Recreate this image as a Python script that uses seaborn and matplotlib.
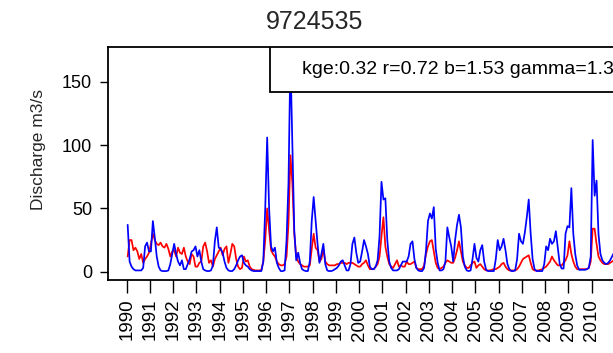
import numpy as np
import pandas as pd
import matplotlib
matplotlib.use("Agg")
import matplotlib.pyplot as plt
import seaborn as sns
from matplotlib.patches import Rectangle

# ---------------- data ----------------
title = "9724535"
ylabel = "Discharge m3/s"
stats_text = "kge:0.32 r=0.72 b=1.53 gamma=1.3"
start_year = 1990
tick_years = list(range(1990, 2011))
y_ticks = [0, 50, 100, 150]

# monthly discharge, blue series (simulated), Jan 1990 .. Dec 2010
simulated = [
    37, 8, 4, 2, 1, 1, 1, 1, 3, 20, 23, 16,            # 1990
    16, 40, 27, 12, 4, 1, 0.5, 0.5, 0.5, 1, 6, 14,     # 1991
    22, 14, 8, 5, 9, 2, 2, 6, 10, 16, 17, 20,          # 1992
    12, 17, 8, 2, 1, 0.5, 0.5, 1, 5, 24, 35, 19,       # 1993
    18, 15, 8, 3, 1, 0.5, 0.5, 2, 5, 9, 12, 13,        # 1994
    7, 5, 4, 2, 1, 0.5, 0.5, 0.5, 0.5, 0.5, 8, 50,     # 1995
    106, 50, 20, 16, 19, 7, 3, 0.5, 0.5, 1, 25, 70,   # 1996
    170, 100, 32, 9, 15, 7, 2, 1, 0.5, 0.5, 8, 40,    # 1997
    59, 41, 22, 7, 14, 22, 6, 1, 0.5, 0.5, 1, 2,       # 1998
    3, 5, 8, 9, 5, 1, 1, 6, 22, 27, 15, 7,             # 1999
    8, 16, 25, 20, 14, 4, 2, 2, 4, 9, 28, 71,          # 2000
    57, 58, 25, 8, 3, 1, 1, 1, 2, 5, 8, 8,             # 2001
    8, 12, 22, 24, 10, 3, 1, 0.5, 0.5, 3, 17, 40,      # 2002
    46, 42, 51, 18, 7, 1, 1, 2, 8, 35, 27, 20,         # 2003
    8, 25, 37, 45, 35, 12, 4, 1, 0.5, 1, 10, 22,       # 2004
    11, 8, 17, 21, 8, 1.5, 0.5, 0.5, 0.5, 0.5, 10, 25, # 2005
    17, 20, 26, 17, 6, 2, 0.5, 0.5, 1, 10, 30, 24,     # 2006
    22, 31, 43, 57, 30, 10, 2, 0.5, 0.5, 0.5, 0.5, 6,  # 2007
    20, 17, 26, 22, 24, 32, 19, 6, 2.5, 2.5, 30, 36,   # 2008
    35, 66, 30, 14, 5, 1.5, 1.5, 1.5, 1.5, 2, 3, 12,   # 2009
    104, 60, 72, 30, 14, 9, 7, 6, 7, 9, 12, 15,        # 2010
]

# monthly discharge, red series (observed), Jan 1990 .. Dec 2010
observed = [
    12, 25, 25, 17, 19, 16, 10, 14, 7, 10, 12, 15,     # 1990
    22, 30, 25, 22, 21, 23, 20, 19, 22, 18, 12, 16,    # 1991
    17, 12, 19, 15, 14, 19, 12, 8, 6, 14, 12, 4,       # 1992
    4, 7, 8, 20, 23, 16, 7, 9, 4, 10, 13, 16,          # 1993
    19, 13, 18, 20, 7, 14, 22, 20, 10, 4, 2, 3,        # 1994
    12, 8, 9, 4, 2, 1.5, 1, 1, 1, 1.5, 8, 25,          # 1995
    50, 33, 17, 14, 12, 8, 6, 5, 5, 6, 12, 38,         # 1996
    92, 70, 30, 12, 8, 6, 5, 4, 4, 4, 5, 18,           # 1997
    30, 19, 17, 8, 10, 18, 8, 6, 5, 5, 5, 5,           # 1998
    6, 6, 7, 7, 7, 6, 7, 7, 7, 6, 5, 4,                # 1999
    4, 6, 7, 9, 5, 2, 2, 2, 4, 6, 12, 28,              # 2000
    43, 20, 12, 6, 4, 3, 6, 9, 4, 5, 4, 4,             # 2001
    8, 6, 6, 7, 8, 3, 2, 2, 2, 5, 14, 20,              # 2002
    24, 25, 16, 7, 3, 2, 3, 4, 7, 9, 8, 7,             # 2003
    7, 11, 17, 24, 16, 8, 5, 3, 3, 5, 7, 8,            # 2004
    3, 5, 6, 4, 2, 1, 1, 1, 1.5, 2, 2, 3,              # 2005
    4, 6, 7, 4, 2, 1, 1, 1, 1, 2, 4, 7,                # 2006
    10, 11, 12, 13, 7, 2, 1, 1, 1, 1.5, 2, 3,          # 2007
    4, 6, 8, 12, 9, 7, 5, 5, 5, 7, 9, 13,              # 2008
    24, 14, 8, 4, 2, 2, 2, 2, 2, 2, 3, 8,              # 2009
    34, 34, 22, 12, 9, 7, 6, 6, 6, 7, 8, 9,            # 2010
]

# time axis in decimal years (mid-month)
time = [start_year + (i + 0.5) / 12 for i in range(len(simulated))]
df = pd.DataFrame({"time": time, "simulated": simulated, "observed": observed})

# ---------------- figure ----------------
sns.set_style("white")
plt.rcParams["font.family"] = ["Liberation Sans", "DejaVu Sans"]

W, H = 613, 353
fig = plt.figure(figsize=(W / 100, H / 100), dpi=100)
ax_l, ax_b, ax_w, ax_h = 108, 73, 600, 233
ax = fig.add_axes([ax_l / W, ax_b / H, ax_w / W, ax_h / H])

sns.lineplot(data=df, x="time", y="observed", color="#FF0000", lw=1.25,
             ax=ax, estimator=None, legend=False)
sns.lineplot(data=df, x="time", y="simulated", color="#0000FF", lw=1.25,
             ax=ax, estimator=None, legend=False)

px_per_year = 23.25
x0 = start_year - (126.7 - ax_l) / px_per_year
ax.set_xlim(x0, x0 + ax_w / px_per_year)
px_per_unit = 1.266
y0 = -(280 - 271.7) / px_per_unit
ax.set_ylim(y0, y0 + ax_h / px_per_unit)

ax.set_xticks(tick_years)
ax.set_xticklabels([str(y) for y in tick_years], rotation=90)
ax.set_yticks(y_ticks)
ax.set_yticklabels([str(v) for v in y_ticks])
ax.set_xlabel("")
ax.set_ylabel("")

for s in ax.spines.values():
    s.set_visible(True)
    s.set_color("black")
    s.set_linewidth(1.3)

ax.tick_params(axis="x", direction="out", length=9.5, width=1.0, pad=4,
               labelsize=13.5, colors="black", bottom=True)
ax.tick_params(axis="y", direction="out", length=5.5, width=1.0, pad=6,
               labelsize=13, colors="black", left=True)

# statistics box (legend-like)
bx = (270 - ax_l) / ax_w
by = (280 - 92) / ax_h
ax.add_patch(Rectangle((bx, by), 1.2, 1 - by, transform=ax.transAxes,
                       facecolor="white", edgecolor="black", lw=1.3,
                       zorder=5, clip_on=True))
ax.text((302 - ax_l) / ax_w, (280 - 70) / ax_h, stats_text,
        transform=ax.transAxes, ha="left", va="center", fontsize=14,
        color="black", zorder=6)

fig.text(315 / W, 1 - 22 / H, title, ha="center", va="center", fontsize=18)
fig.text(38 / W, 1 - 150 / H, ylabel, ha="center", va="center",
         rotation=90, fontsize=12.5)

fig.savefig("out.png", dpi=100)
